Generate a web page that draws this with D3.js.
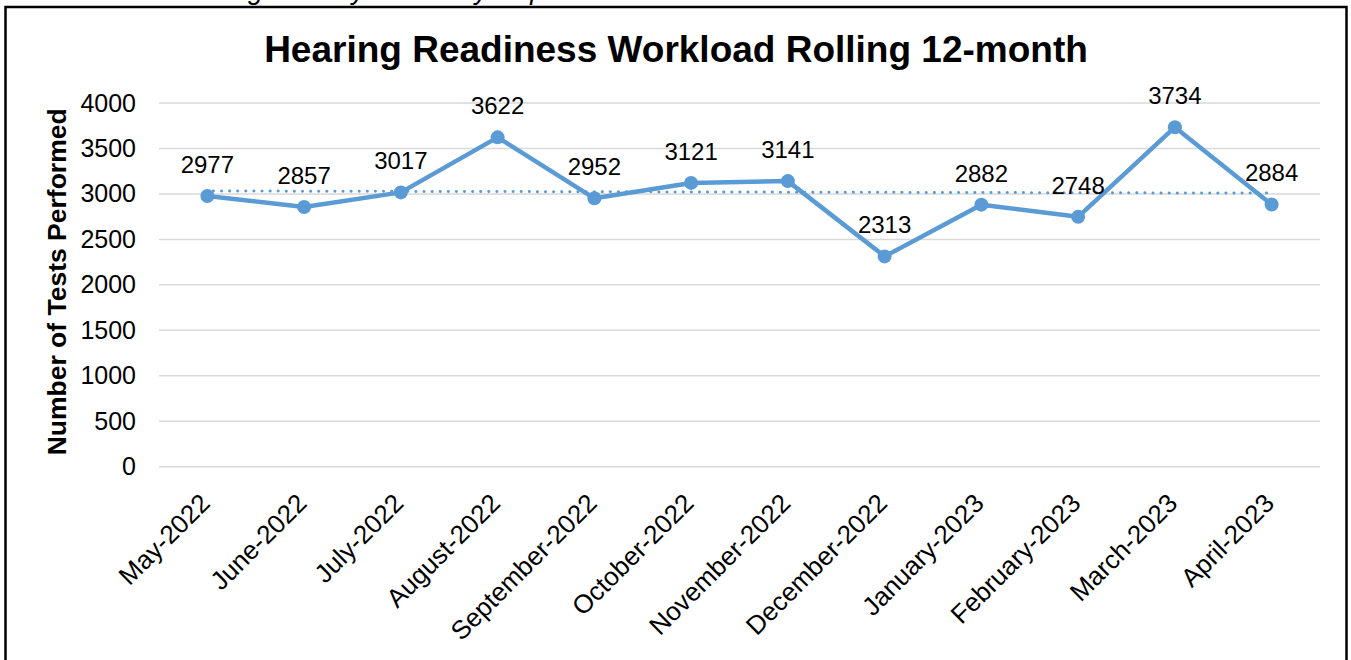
<!DOCTYPE html>
<html>
<head>
<meta charset="utf-8">
<script src="https://cdn.jsdelivr.net/npm/d3@7"></script>
<style>
  body { margin: 0; background: #fff; }
  svg { display: block; font-family: Arial, "Liberation Sans", sans-serif; }
</style>
</head>
<body>
<div id="chart"></div>
<script>
// data
var months = ["May-2022", "June-2022", "July-2022", "August-2022", "September-2022",
              "October-2022", "November-2022", "December-2022", "January-2023",
              "February-2023", "March-2023", "April-2023"];
var tests = [2977, 2857, 3017, 3622, 2952, 3121, 3141, 2313, 2882, 2748, 3734, 2884];
var yTicks = [0, 500, 1000, 1500, 2000, 2500, 3000, 3500, 4000];

var W = 1351, H = 660;
var margin = {top: 103, right: 31, bottom: 193, left: 159};

var svg = d3.select("#chart").append("svg")
    .attr("width", W)
    .attr("height", H);

// source line above the frame, cut off by the page top as in the original
svg.append("text")
    .attr("x", 2)
    .attr("y", -1)
    .style("font-size", "27px")
    .style("font-style", "italic")
    .attr("fill", "#000")
    .text("Source: HRC Hearing Monthly Summary Report");

// frame
svg.append("rect")
    .attr("x", 5.5)
    .attr("y", 7)
    .attr("width", 1341)
    .attr("height", 680)
    .attr("fill", "none")
    .attr("stroke", "#000")
    .attr("stroke-width", 2.5);

var x = d3.scaleBand()
    .domain(months)
    .range([margin.left, W - margin.right]);

var y = d3.scaleLinear()
    .domain([0, 4000])
    .range([H - margin.bottom - 0.3, margin.top]);

// gridlines
svg.append("g")
    .selectAll("line")
    .data(yTicks)
    .enter().append("line")
    .attr("x1", margin.left)
    .attr("x2", W - margin.right)
    .attr("y1", function(d) { return y(d); })
    .attr("y2", function(d) { return y(d); })
    .attr("stroke", "#d9d9d9")
    .attr("stroke-width", 1.5);

// y axis
var yAxis = d3.axisLeft(y).tickValues(yTicks).tickFormat(d3.format("d")).tickSize(0).tickPadding(0);
var gy = svg.append("g")
    .attr("transform", "translate(136,0)")
    .call(yAxis);
gy.select(".domain").remove();
gy.selectAll("text")
    .style("font-size", "25px")
    .attr("fill", "#000")
    .attr("font-family", null);

// x axis
var xAxis = d3.axisBottom(x).tickSize(0).tickPadding(0);
var gx = svg.append("g")
    .attr("transform", "translate(0," + y(0) + ")")
    .call(xAxis);
gx.select(".domain").remove();
gx.selectAll("text")
    .style("font-size", "26px")
    .attr("fill", "#000")
    .attr("font-family", null)
    .attr("text-anchor", "end")
    .attr("dy", null)
    .attr("y", 0)
    .attr("transform", "translate(4,38) rotate(-45)");

// title
svg.append("text")
    .attr("x", 676)
    .attr("y", 62)
    .attr("text-anchor", "middle")
    .style("font-size", "37px")
    .style("font-weight", "bold")
    .text("Hearing Readiness Workload Rolling 12-month");

// y title
svg.append("text")
    .attr("transform", "translate(66," + (y(2000) - 3) + ") rotate(-90)")
    .attr("text-anchor", "middle")
    .style("font-size", "26.5px")
    .style("font-weight", "bold")
    .text("Number of Tests Performed");

// linear trendline (least squares, like Excel)
var idx = d3.range(tests.length);
var mx = d3.mean(idx), my = d3.mean(tests);
var slope = d3.sum(idx, function(i) { return (i - mx) * (tests[i] - my); }) /
            d3.sum(idx, function(i) { return (i - mx) * (i - mx); });
var icpt = my - slope * mx;
var cx = function(i) { return x(months[i]) + x.bandwidth() / 2; };

svg.append("line")
    .attr("x1", cx(0) + 6)
    .attr("x2", cx(tests.length - 1) - 4)
    .attr("y1", y(icpt))
    .attr("y2", y(icpt + slope * (tests.length - 1)))
    .attr("stroke", "#5b9bd5")
    .attr("stroke-width", 3)
    .attr("stroke-linecap", "round")
    .attr("stroke-dasharray", "0.1,8");

// main line
var line = d3.line()
    .x(function(d, i) { return cx(i); })
    .y(function(d) { return y(d); });

svg.append("path")
    .datum(tests)
    .attr("fill", "none")
    .attr("stroke", "#5b9bd5")
    .attr("stroke-width", 4.5)
    .attr("stroke-linejoin", "round")
    .attr("d", line);

svg.selectAll(".dot")
    .data(tests)
    .enter().append("circle")
    .attr("class", "dot")
    .attr("cx", function(d, i) { return cx(i); })
    .attr("cy", function(d) { return y(d); })
    .attr("r", 7)
    .attr("fill", "#5b9bd5");

// data labels
svg.selectAll(".lbl")
    .data(tests)
    .enter().append("text")
    .attr("class", "lbl")
    .attr("x", function(d, i) { return cx(i); })
    .attr("y", function(d) { return y(d) - 23; })
    .attr("text-anchor", "middle")
    .style("font-size", "24px")
    .attr("fill", "#000")
    .text(function(d) { return d; });
</script>
</body>
</html>
